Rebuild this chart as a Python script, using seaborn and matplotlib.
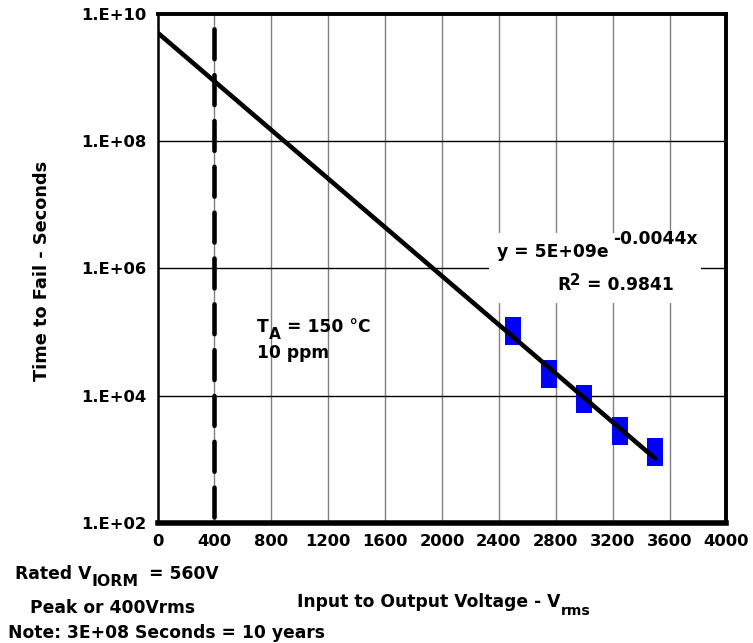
import numpy as np
import matplotlib
matplotlib.use("Agg")
import matplotlib.pyplot as plt
import matplotlib.ticker as mticker
from matplotlib.patches import Rectangle
import seaborn as sns
import pandas as pd


# test points (Vrms, seconds)
voltage_vrms = [2500, 2750, 3000, 3250, 3500]
time_to_fail_s = [1.04e5, 2.2e4, 8.9e3, 2.8e3, 1.3e3]

# exponential trendline as printed on the chart: y = A * exp(B * x)
fit_a = 5e9
fit_b = -0.0044
fit_x_end = 3500

# rated working voltage marker
rated_vrms = 400

x_ticks = [0, 400, 800, 1200, 1600, 2000, 2400, 2800, 3200, 3600, 4000]
y_ticks = [1e2, 1e4, 1e6, 1e8, 1e10]
y_tick_labels = ["1.E+02", "1.E+04", "1.E+06", "1.E+08", "1.E+10"]

W, H = 753, 643
FS = 12.3


def fx(px):
    return px / W


def fy(py):
    return 1 - py / H


def put(px, py, s, size=FS):
    return fig.text(fx(px), fy(py), s, fontsize=size, fontweight="bold", va="bottom", zorder=5)


def chain(prev, s, dy=0, size=FS, dx=0):
    # put a text piece right after another one (sub/superscripts)
    a = plt.Annotation(s, xy=(1, 0), xycoords=prev, xytext=(dx, dy),
                       textcoords="offset points", va="bottom", ha="left",
                       fontsize=size, fontweight="bold", color="black",
                       annotation_clip=False, zorder=5)
    fig.add_artist(a)
    return a


sns.set_style("white")
plt.rcParams['font.family'] = ['DejaVu Sans']
plt.rcParams['font.weight'] = 'bold'
plt.rcParams['text.color'] = 'black'
plt.rcParams['xtick.color'] = 'black'
plt.rcParams['ytick.color'] = 'black'

df = pd.DataFrame({"voltage": voltage_vrms, "ttf": time_to_fail_s})
fit_x = np.linspace(0, fit_x_end, 200)
fit_df = pd.DataFrame({"voltage": fit_x, "ttf": fit_a * np.exp(fit_b * fit_x)})

fig = plt.figure(figsize=(7.53, 6.43), dpi=100)
ax = fig.add_axes([0.2093, 0.1866, 0.7554, 0.7924])

ax.set_yscale("log")
ax.set_xlim(0, 4000)
ax.set_ylim(1e2, 1e10)

# grid: grey verticals, black horizontals
for xv in x_ticks[1:-1]:
    ax.axvline(xv, color="#808080", lw=1.0, zorder=1)
for yv in y_ticks[1:-1]:
    ax.axhline(yv, color="black", lw=1.0, zorder=1)

# white box behind the trendline equation
box = Rectangle((fx(489), fy(303)), fx(701) - fx(489), fy(233) - fy(303),
                transform=fig.transFigure, facecolor="white", edgecolor="none", zorder=2)
ax.add_patch(box)

rect_marker = [(-0.2857, -0.5), (0.2857, -0.5), (0.2857, 0.5), (-0.2857, 0.5), (-0.2857, -0.5)]
sns.scatterplot(data=df, x="voltage", y="ttf", marker=rect_marker, s=406,
                color="#0000FF", edgecolor="none", linewidth=0, zorder=3, ax=ax, legend=False)
sns.lineplot(data=fit_df, x="voltage", y="ttf", color="black", lw=3.3, zorder=4, ax=ax)

ax.axvline(rated_vrms, ymin=0.012, ymax=0.98, color="black", lw=3.3,
           dashes=(6.5, 3.5), dash_capstyle="round", zorder=4)

ax.set_xticks(x_ticks)
ax.set_yticks(y_ticks)
ax.set_yticklabels(y_tick_labels)
ax.yaxis.set_minor_locator(mticker.NullLocator())
ax.tick_params(axis="both", length=0, labelsize=11.8, labelcolor="black")
ax.tick_params(axis="x", pad=8)
ax.tick_params(axis="y", pad=8)
ax.set_xlabel("")
ax.set_ylabel("")

for side, lw in [("left", 1.8), ("top", 2.8), ("right", 2.8), ("bottom", 4.0)]:
    ax.spines[side].set_visible(True)
    ax.spines[side].set_color("black")
    ax.spines[side].set_linewidth(lw)
    ax.spines[side].set_zorder(6)

# trendline equation
t = put(497, 261, "y = 5E+09e")
chain(t, "-0.0044x", dy=9, dx=3)
t = put(557, 294, "R")
t = chain(t, "2", dy=4.5, size=FS * 0.88)
chain(t, " = 0.9841", dy=-4.5)

# test conditions
t = put(257, 336, "T")
t = chain(t, "A", dy=-4.5, size=FS * 0.9)
chain(t, " = 150 °C", dy=4.5)
put(257, 362, "10 ppm")

# axis titles and notes
fig.text(fx(42), fy(271), "Time to Fail - Seconds", rotation=90, ha="center", va="center",
         fontsize=12.8, fontweight="bold")
t = put(297, 611, "Input to Output Voltage - V")
chain(t, "rms", dy=-5, size=FS * 0.82)
t = put(15, 583, "Rated V")
t = chain(t, "IORM", dy=-4.5, size=FS * 0.92)
chain(t, " = 560V", dy=4.5, dx=3)
put(30, 617, "Peak or 400Vrms")
put(8, 642, "Note: 3E+08 Seconds = 10 years")

fig.savefig("out.png", dpi=100)
